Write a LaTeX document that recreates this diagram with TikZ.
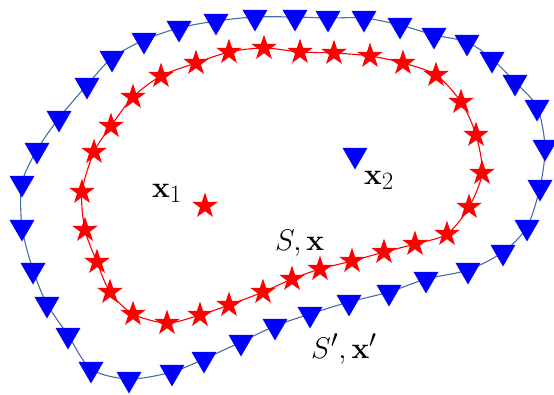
\documentclass[tikz,border=0pt]{standalone}
\usepackage{amsmath}
\usepackage{xcolor}
\usetikzlibrary{shapes.geometric}

\definecolor{curveblue}{RGB}{70,110,160}

\tikzset{
  tri/.style={regular polygon, regular polygon sides=3, shape border rotate=180,
    fill=blue, inner sep=0pt, minimum size=29pt},
  pentastar/.style={star, star points=5, star point ratio=2.6,
    fill=red, inner sep=0pt, minimum size=27pt},
  lbl/.style={font=\Huge, scale=1.2, inner sep=0pt, anchor=base west}
}

\begin{document}
\begin{tikzpicture}[x=1pt, y=-1pt]
\useasboundingbox (0,0) rectangle (554,394);

% outer boundary S'
\foreach \px/\py [count=\i] in {22/227, 22/183, 37/150, 59/118, 87/85, 112/58,
  144/40, 179/28, 216/21, 255/17, 295/17, 328/18, 364/18, 400/25, 434/35,
  467/42, 492/59, 515/82, 537/107, 545/147, 540/187, 527/227, 503/252,
  468/270, 426/279, 389/292, 349/302, 310/314, 275/326, 241/342, 204/359,
  172/372, 129/379, 91/369, 68/335, 47/304, 33/270}
  \coordinate (o\i) at (\px,\py);
\draw[curveblue, line width=1.1pt] plot[smooth cycle, samples at={1,...,37}, variable=\k] (o\k);
\foreach \i in {1,...,37}
  \node[tri] (ot\i) at (o\i) {};

% inner boundary S
\foreach \px/\py [count=\i] in {85/230, 82/192, 94/152, 111/126, 133/97, 161/76,
  196/63, 229/52, 264/48, 300/52, 334/53, 370/56, 403/63, 436/75, 461/102,
  476/135, 482/173, 469/207, 447/234, 415/244, 384/252, 352/261, 320/269,
  292/279, 263/292, 229/305, 200/315, 167/323, 133/314, 110/292, 97/262}
  \coordinate (s\i) at (\px,\py);
\draw[red, line width=1.1pt] plot[smooth cycle, samples at={1,...,31}, variable=\k] (s\k);
\foreach \i in {1,...,31}
  \node[pentastar] (st\i) at (s\i) {};

% the two points
\node[pentastar] (xone) at (205,206) {};
\node[tri] (xtwo) at (355,155) {};

% labels
\node[lbl] (lxone) at (152,197) {$\mathbf{x}_1$};
\node[lbl] (lxtwo) at (364,184) {$\mathbf{x}_2$};
\node[lbl] (ls) at (275,250) {$S,\mathbf{x}$};
\node[lbl] (lsp) at (311,358) {$S',\mathbf{x}'$};
\end{tikzpicture}
\end{document}
